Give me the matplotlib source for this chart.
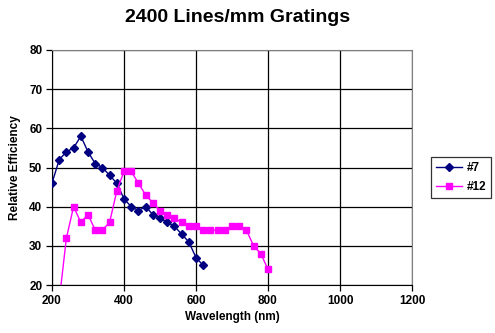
"""
2400 Lines/mm grating efficiency curves, Excel-style chart.
"""
import matplotlib.pyplot as plt
from matplotlib.ticker import MultipleLocator

plt.rcParams["font.family"] = ["Liberation Sans", "DejaVu Sans"]
plt.rcParams["font.weight"] = "bold"

WL_7 = [200, 220, 240, 260, 280, 300, 320, 340, 360, 380, 400, 420, 440,
        460, 480, 500, 520, 540, 560, 580, 600, 620]
EFF_7 = [46, 52, 54, 55, 58, 54, 51, 50, 48, 46, 42, 40, 39,
         40, 38, 37, 36, 35, 33, 31, 27, 25]

WL_12 = [220, 240, 260, 280, 300, 320, 340, 360, 380, 400, 420, 440, 460,
         480, 500, 520, 540, 560, 580, 600, 620, 640, 660, 680, 700, 720,
         740, 760, 780, 800]
EFF_12 = [16, 32, 40, 36, 38, 34, 34, 36, 44, 49, 49, 46, 43,
          41, 39, 38, 37, 36, 35, 35, 34, 34, 34, 34, 35, 35,
          34, 30, 28, 24]

LABELS = ["#7", "#12"]
TITLE = "2400 Lines/mm Gratings"


def main():
    fig = plt.figure(figsize=(4.95, 3.33), dpi=100, facecolor="white")
    ax = fig.add_axes([52 / 495, 48 / 333, 360 / 495, 235 / 333])

    ax.plot(WL_7, EFF_7, color="#000080", lw=1, marker="D", ms=4.5,
            label=LABELS[0], zorder=3)
    ax.plot(WL_12, EFF_12, color="#ff00ff", lw=1, marker="s", ms=4.5,
            label=LABELS[1], zorder=3)

    ax.set_xlim(200, 1200)
    ax.set_ylim(20, 80)
    ax.xaxis.set_major_locator(MultipleLocator(200))
    ax.yaxis.set_major_locator(MultipleLocator(10))
    ax.grid(True, color="black", lw=0.9, zorder=1)
    ax.set_axisbelow(True)

    for side in ("top", "right"):
        ax.spines[side].set_color("#808080")
    for side in ("left", "bottom"):
        ax.spines[side].set_color("black")
    ax.tick_params(direction="out", length=4, width=0.9, labelsize=8.5,
                   pad=3)

    ax.set_xlabel("Wavelength (nm)", fontsize=8.5, fontweight="bold",
                  labelpad=3)
    ax.set_ylabel("Relative Efficiency", fontsize=8.5, fontweight="bold",
                  labelpad=6)

    fig.text(238 / 495, 1 - 17 / 333, TITLE, ha="center", va="center",
             fontsize=14, fontweight="bold")

    leg = fig.legend(loc="upper left", bbox_to_anchor=(431 / 495, 1 - 157 / 333),
                     fontsize=8.5, frameon=True, fancybox=False,
                     handlelength=2.2, borderpad=0.4, labelspacing=0.6,
                     handletextpad=0.4, borderaxespad=0)
    leg.get_frame().set_edgecolor("black")
    leg.get_frame().set_linewidth(0.9)

    plt.savefig("out.png", dpi=100, facecolor="white")
    plt.close()


if __name__ == "__main__":
    main()
